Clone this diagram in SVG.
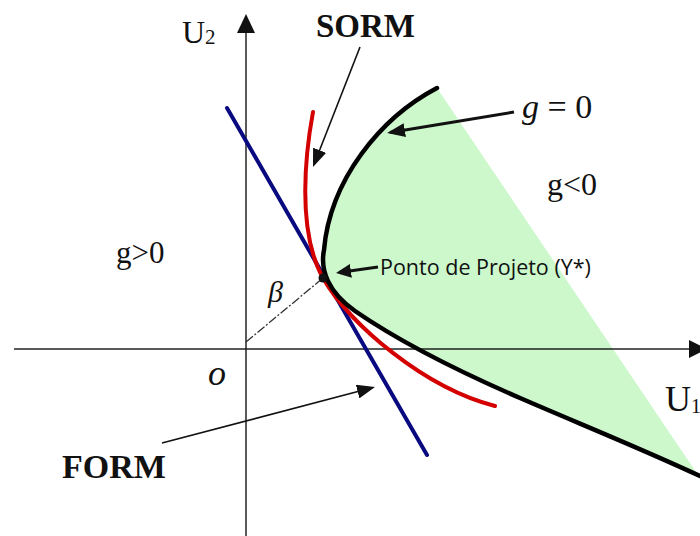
<svg xmlns="http://www.w3.org/2000/svg" width="700" height="536" viewBox="0 0 700 536">
  <style>
    .axis { stroke: #222; stroke-width: 1.5; fill: none; }
    .serif { font-family: "Liberation Serif", "Times New Roman", serif; fill: #111; }
    .bold { font-weight: bold; }
    .ital { font-style: italic; }
    .ptr { stroke: #111; fill: none; }
  </style>
  <defs>
    <marker id="ah" markerUnits="userSpaceOnUse" markerWidth="18" markerHeight="14" refX="15" refY="7" orient="auto">
      <path d="M0,0 L18,7 L0,14 z" fill="#111"/>
    </marker>
    <marker id="ahs" markerUnits="userSpaceOnUse" markerWidth="15" markerHeight="14" refX="12" refY="7" orient="auto">
      <path d="M0,0 L15,7 L0,14 z" fill="#111"/>
    </marker>
  </defs>
  <rect width="700" height="536" fill="#ffffff"/>

  <g id="failure-region">
    <path d="M437,88 C380,118 330,180 324,250 C320,270 328,292 355,311 C400,342 460,372 520,398 C580,424 640,448 700,476 L698,475 L437,88 Z" fill="#ccf8cc" stroke="none"/>
  </g>

  <g id="axes">
    <line class="axis" x1="246" y1="33" x2="246" y2="536"/>
    <polygon points="246,14 237,33 255,33" fill="#111"/>
    <line class="axis" x1="14" y1="349" x2="690" y2="349"/>
    <polygon points="707,349 689,340 689,358" fill="#111"/>
  </g>

  <g id="beta-line">
    <line x1="246" y1="342" x2="323" y2="278" stroke="#333" stroke-width="1.3" stroke-dasharray="9 2 2 2"/>
  </g>

  <g id="form-line">
    <line x1="227" y1="108" x2="427" y2="455" stroke="#0a0a80" stroke-width="4" stroke-linecap="round"/>
  </g>

  <g id="sorm-curve">
    <path d="M313,112 C306,150 296,230 323,278 C350,325 425,388 495,406" fill="none" stroke="#d40000" stroke-width="4" stroke-linecap="round"/>
  </g>

  <g id="limit-state">
    <path d="M437,88 C380,118 330,180 324,250 C320,270 328,292 355,311 C400,342 460,372 520,398 C580,424 640,448 700,476" fill="none" stroke="#000" stroke-width="4.5" stroke-linecap="round"/>
  </g>

  <g id="design-point">
    <circle cx="323" cy="278" r="4.5" fill="#111"/>
  </g>

  <g id="connectors">
    <line class="ptr" x1="360" y1="47" x2="314.1" y2="164.2" stroke-width="1.6" marker-end="url(#ah)"/>
    <line class="ptr" x1="514" y1="112" x2="390" y2="132.5" stroke-width="3" marker-end="url(#ah)"/>
    <line class="ptr" x1="378" y1="267" x2="339" y2="272.6" stroke-width="3" marker-end="url(#ahs)"/>
    <line class="ptr" x1="162" y1="443" x2="372.1" y2="387.8" stroke-width="1.6" marker-end="url(#ah)"/>
  </g>

  <g id="labels">
    <text class="serif" x="182" y="43" font-size="32">U<tspan font-size="21" dy="1">2</tspan></text>
    <text class="serif bold" x="316" y="37" font-size="33">SORM</text>
    <text class="serif" x="522" y="118" font-size="34"><tspan class="ital">g</tspan> = 0</text>
    <text class="serif" x="547" y="195" font-size="32">g&lt;0</text>
    <text class="serif" x="116" y="263" font-size="31">g&gt;0</text>
    <text class="serif ital" x="268" y="302" font-size="30">β</text>
    <text class="serif ital" x="208" y="385" font-size="36">o</text>
    <text class="serif" x="665" y="411" font-size="36">U<tspan font-size="20" dy="2">1</tspan></text>
    <text class="serif bold" x="62" y="478" font-size="34">FORM</text>
    <text x="380" y="275" font-family="'Open Sans', 'Noto Sans', sans-serif" font-size="21.5" fill="#111">Ponto de Projeto (Y*)</text>
  </g>
</svg>
